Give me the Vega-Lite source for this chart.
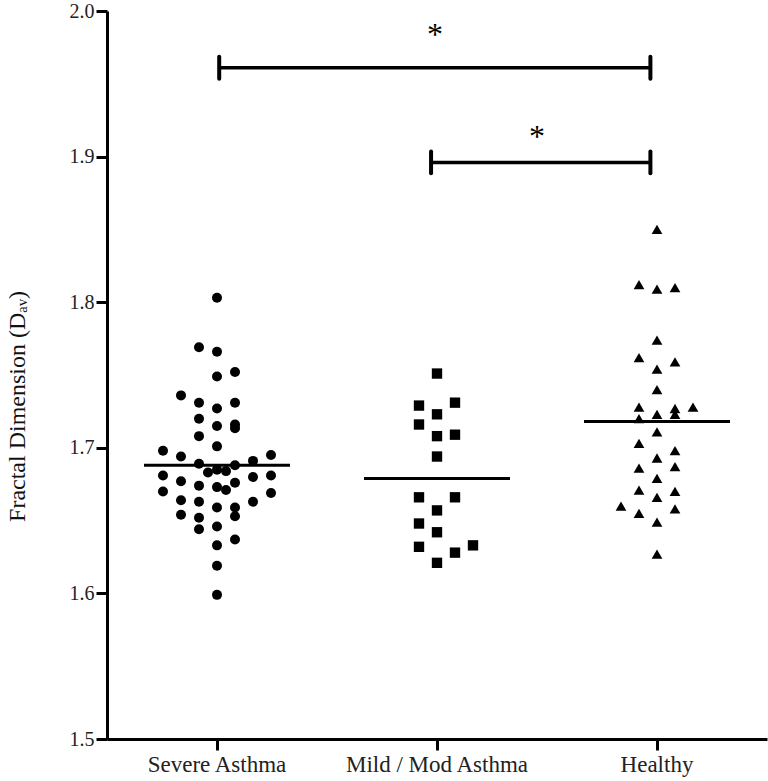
{
  "$schema": "https://vega.github.io/schema/vega-lite/v6.json",
  "width": 660,
  "height": 728,
  "autosize": {"type": "none"},
  "padding": {"left": 107, "top": 11, "right": 1, "bottom": 42},
  "config": {"view": {"stroke": null}, "font": "Liberation Serif"},
  "datasets": {
    "points": [
      {"group": "Severe Asthma", "slot": 0, "value": 1.803},
      {"group": "Severe Asthma", "slot": -1, "value": 1.769},
      {"group": "Severe Asthma", "slot": 0, "value": 1.766},
      {"group": "Severe Asthma", "slot": 1, "value": 1.752},
      {"group": "Severe Asthma", "slot": 0, "value": 1.749},
      {"group": "Severe Asthma", "slot": -2, "value": 1.736},
      {"group": "Severe Asthma", "slot": -1, "value": 1.731},
      {"group": "Severe Asthma", "slot": 1, "value": 1.731},
      {"group": "Severe Asthma", "slot": 0, "value": 1.727},
      {"group": "Severe Asthma", "slot": -1, "value": 1.720},
      {"group": "Severe Asthma", "slot": 1, "value": 1.716},
      {"group": "Severe Asthma", "slot": 1, "value": 1.7135},
      {"group": "Severe Asthma", "slot": 0, "value": 1.715},
      {"group": "Severe Asthma", "slot": -1, "value": 1.708},
      {"group": "Severe Asthma", "slot": 0, "value": 1.701},
      {"group": "Severe Asthma", "slot": -3, "value": 1.698},
      {"group": "Severe Asthma", "slot": -2, "value": 1.694},
      {"group": "Severe Asthma", "slot": 3, "value": 1.695},
      {"group": "Severe Asthma", "slot": 2, "value": 1.691},
      {"group": "Severe Asthma", "slot": -1, "value": 1.689},
      {"group": "Severe Asthma", "slot": 1, "value": 1.688},
      {"group": "Severe Asthma", "slot": 0, "value": 1.685},
      {"group": "Severe Asthma", "slot": -0.5, "value": 1.683},
      {"group": "Severe Asthma", "slot": 0.5, "value": 1.684},
      {"group": "Severe Asthma", "slot": -3, "value": 1.681},
      {"group": "Severe Asthma", "slot": 3, "value": 1.681},
      {"group": "Severe Asthma", "slot": 2, "value": 1.680},
      {"group": "Severe Asthma", "slot": -2, "value": 1.677},
      {"group": "Severe Asthma", "slot": 1, "value": 1.676},
      {"group": "Severe Asthma", "slot": -1, "value": 1.674},
      {"group": "Severe Asthma", "slot": 0, "value": 1.673},
      {"group": "Severe Asthma", "slot": 0.5, "value": 1.671},
      {"group": "Severe Asthma", "slot": -3, "value": 1.670},
      {"group": "Severe Asthma", "slot": 3, "value": 1.669},
      {"group": "Severe Asthma", "slot": -2, "value": 1.664},
      {"group": "Severe Asthma", "slot": -1, "value": 1.663},
      {"group": "Severe Asthma", "slot": 2, "value": 1.663},
      {"group": "Severe Asthma", "slot": 0, "value": 1.659},
      {"group": "Severe Asthma", "slot": 1, "value": 1.659},
      {"group": "Severe Asthma", "slot": 1, "value": 1.653},
      {"group": "Severe Asthma", "slot": -2, "value": 1.654},
      {"group": "Severe Asthma", "slot": -1, "value": 1.652},
      {"group": "Severe Asthma", "slot": -1, "value": 1.644},
      {"group": "Severe Asthma", "slot": 0, "value": 1.646},
      {"group": "Severe Asthma", "slot": 1, "value": 1.637},
      {"group": "Severe Asthma", "slot": 0, "value": 1.633},
      {"group": "Severe Asthma", "slot": 0, "value": 1.619},
      {"group": "Severe Asthma", "slot": 0, "value": 1.599},
      {"group": "Mild / Mod Asthma", "slot": 0, "value": 1.751},
      {"group": "Mild / Mod Asthma", "slot": 1, "value": 1.731},
      {"group": "Mild / Mod Asthma", "slot": -1, "value": 1.729},
      {"group": "Mild / Mod Asthma", "slot": 0, "value": 1.723},
      {"group": "Mild / Mod Asthma", "slot": -1, "value": 1.716},
      {"group": "Mild / Mod Asthma", "slot": 0, "value": 1.708},
      {"group": "Mild / Mod Asthma", "slot": 1, "value": 1.709},
      {"group": "Mild / Mod Asthma", "slot": 0, "value": 1.694},
      {"group": "Mild / Mod Asthma", "slot": -1, "value": 1.666},
      {"group": "Mild / Mod Asthma", "slot": 1, "value": 1.666},
      {"group": "Mild / Mod Asthma", "slot": 0, "value": 1.657},
      {"group": "Mild / Mod Asthma", "slot": -1, "value": 1.648},
      {"group": "Mild / Mod Asthma", "slot": 0, "value": 1.642},
      {"group": "Mild / Mod Asthma", "slot": -1, "value": 1.632},
      {"group": "Mild / Mod Asthma", "slot": 2, "value": 1.633},
      {"group": "Mild / Mod Asthma", "slot": 1, "value": 1.628},
      {"group": "Mild / Mod Asthma", "slot": 0, "value": 1.621},
      {"group": "Healthy", "slot": 0, "value": 1.850},
      {"group": "Healthy", "slot": -1, "value": 1.812},
      {"group": "Healthy", "slot": 0, "value": 1.809},
      {"group": "Healthy", "slot": 1, "value": 1.810},
      {"group": "Healthy", "slot": 0, "value": 1.774},
      {"group": "Healthy", "slot": -1, "value": 1.762},
      {"group": "Healthy", "slot": 1, "value": 1.759},
      {"group": "Healthy", "slot": 0, "value": 1.754},
      {"group": "Healthy", "slot": 0, "value": 1.740},
      {"group": "Healthy", "slot": -1, "value": 1.728},
      {"group": "Healthy", "slot": 2, "value": 1.728},
      {"group": "Healthy", "slot": 1, "value": 1.727},
      {"group": "Healthy", "slot": 0, "value": 1.723},
      {"group": "Healthy", "slot": 1, "value": 1.723},
      {"group": "Healthy", "slot": -1, "value": 1.720},
      {"group": "Healthy", "slot": 0, "value": 1.711},
      {"group": "Healthy", "slot": -1, "value": 1.703},
      {"group": "Healthy", "slot": 1, "value": 1.698},
      {"group": "Healthy", "slot": 0, "value": 1.693},
      {"group": "Healthy", "slot": -1, "value": 1.686},
      {"group": "Healthy", "slot": 1, "value": 1.687},
      {"group": "Healthy", "slot": 0, "value": 1.679},
      {"group": "Healthy", "slot": -1, "value": 1.671},
      {"group": "Healthy", "slot": 1, "value": 1.670},
      {"group": "Healthy", "slot": 0, "value": 1.666},
      {"group": "Healthy", "slot": -2, "value": 1.660},
      {"group": "Healthy", "slot": 1, "value": 1.658},
      {"group": "Healthy", "slot": -1, "value": 1.655},
      {"group": "Healthy", "slot": 0, "value": 1.649},
      {"group": "Healthy", "slot": 0, "value": 1.627}
    ],
    "means": [
      {"group": "Severe Asthma", "mean": 1.688},
      {"group": "Mild / Mod Asthma", "mean": 1.679},
      {"group": "Healthy", "mean": 1.718}
    ],
    "brackets": [
      {"from": 1.01, "to": 2.97, "y": 1.961},
      {"from": 1.973, "to": 2.97, "y": 1.896}
    ],
    "caps": [
      {"x": 1.01, "lo": 1.9535, "hi": 1.9685},
      {"x": 2.97, "lo": 1.9535, "hi": 1.9685},
      {"x": 1.973, "lo": 1.8885, "hi": 1.9035},
      {"x": 2.97, "lo": 1.8885, "hi": 1.9035}
    ],
    "stars": [
      {"x": 1.991, "y": 1.9767, "t": "*"},
      {"x": 2.4545, "y": 1.9068, "t": "*"}
    ]
  },
  "layer": [
    {
      "data": {"name": "points"},
      "mark": {"type": "point", "filled": true, "opacity": 1, "color": "black"},
      "encoding": {
        "x": {
          "field": "group", "type": "nominal",
          "scale": {"domain": ["Severe Asthma", "Mild / Mod Asthma", "Healthy"], "paddingInner": 0, "paddingOuter": 0},
          "axis": {"title": null, "labelAngle": 0, "labelLimit": 0, "labelFontSize": 23, "labelColor": "#222", "labelPadding": 3, "tickSize": 11, "tickWidth": 3, "tickColor": "black", "domainWidth": 3, "domainColor": "black", "grid": false}
        },
        "xOffset": {"field": "slot", "type": "quantitative", "scale": {"domain": [-6.111, 6.111]}},
        "y": {
          "field": "value", "type": "quantitative",
          "scale": {"domain": [1.5, 2.0], "nice": false, "zero": false},
          "axis": {"values": [1.5, 1.6, 1.7, 1.8, 1.9, 2.0], "format": ".1f", "title": "Fractal Dimension (Dₐᵥ)", "titleFontSize": 24, "titleFontWeight": "normal", "titleColor": "#111", "titlePadding": 40, "titleY": 395, "labelFontSize": 20, "labelColor": "#222", "labelPadding": 2, "tickSize": 11, "tickWidth": 3, "tickColor": "black", "domainWidth": 3, "domainColor": "black", "grid": false}
        },
        "shape": {
          "field": "group", "type": "nominal",
          "scale": {"domain": ["Severe Asthma", "Mild / Mod Asthma", "Healthy"], "range": ["circle", "square", "triangle-up"]},
          "legend": null
        },
        "size": {
          "field": "group", "type": "nominal",
          "scale": {"domain": ["Severe Asthma", "Mild / Mod Asthma", "Healthy"], "range": [100, 115, 160]},
          "legend": null
        }
      }
    },
    {
      "data": {"name": "means"},
      "mark": {"type": "tick", "orient": "horizontal", "size": 146, "thickness": 3, "color": "black", "opacity": 1},
      "encoding": {
        "x": {"field": "group", "type": "nominal", "scale": {"domain": ["Severe Asthma", "Mild / Mod Asthma", "Healthy"], "paddingInner": 0, "paddingOuter": 0}, "axis": null},
        "y": {"field": "mean", "type": "quantitative"}
      }
    },
    {
      "layer": [
        {
          "data": {"name": "brackets"},
          "mark": {"type": "rule", "color": "black", "strokeWidth": 3.5},
          "encoding": {
            "x": {"field": "from", "type": "quantitative", "scale": {"domain": [0.5, 3.5], "nice": false, "zero": false}, "axis": null},
            "x2": {"field": "to"},
            "y": {"field": "y", "type": "quantitative"}
          }
        },
        {
          "data": {"name": "caps"},
          "mark": {"type": "rule", "color": "black", "strokeWidth": 4, "strokeCap": "round"},
          "encoding": {
            "x": {"field": "x", "type": "quantitative", "scale": {"domain": [0.5, 3.5], "nice": false, "zero": false}, "axis": null},
            "y": {"field": "lo", "type": "quantitative"},
            "y2": {"field": "hi"}
          }
        },
        {
          "data": {"name": "stars"},
          "mark": {"type": "text", "fontSize": 32, "color": "black", "align": "center", "baseline": "alphabetic", "font": "Liberation Serif"},
          "encoding": {
            "x": {"field": "x", "type": "quantitative", "scale": {"domain": [0.5, 3.5], "nice": false, "zero": false}, "axis": null},
            "y": {"field": "y", "type": "quantitative"},
            "text": {"field": "t"}
          }
        }
      ]
    }
  ],
  "resolve": {"scale": {"x": "independent"}}
}
